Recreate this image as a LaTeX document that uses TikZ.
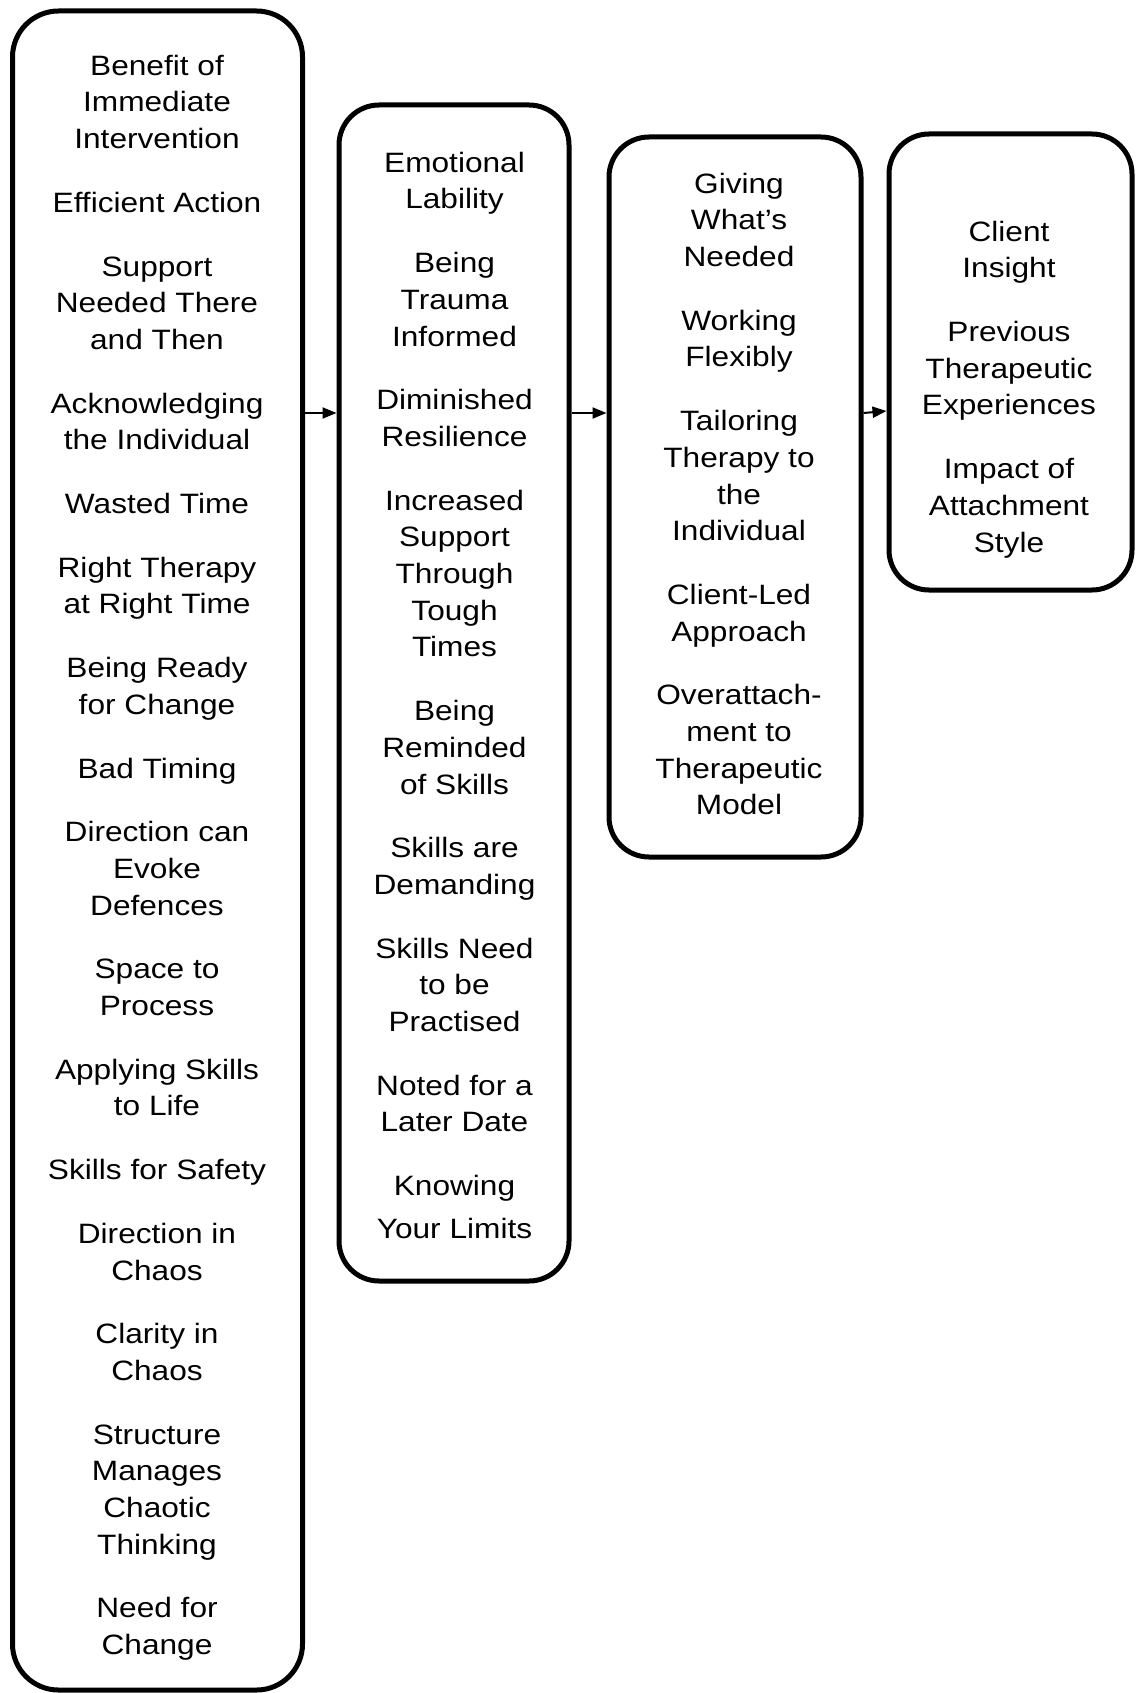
\documentclass[tikz,border=0pt]{standalone}
\usepackage{fontspec}
\setmainfont[FakeStretch=1.13]{Liberation Sans}
\usetikzlibrary{arrows.meta}

\tikzset{
  panel/.style={draw=black, line width=5pt, rounded corners=40pt, fill=white,
    inner sep=0pt},
  itemtext/.style={align=center, inner sep=0pt, anchor=north,
    font=\fontsize{28pt}{36.7pt}\selectfont},
  flow/.style={draw=black, line width=2pt, -{Triangle[length=14pt,width=11pt]}},
}
% space added between consecutive themes
\newcommand{\themegap}{\\[27pt]}

\begin{document}
\begin{tikzpicture}[x=1pt,y=-1pt]
  \useasboundingbox (0,0) rectangle (1138,1693);

  % rounded panels, one per column
  \node[panel, rounded corners=46pt, minimum width=290pt, minimum height=1679pt] (b1) at (157.5,850.5) {};
  \node[panel, minimum width=230pt, minimum height=1176pt] (b2) at (454,693) {};
  \node[panel, minimum width=252pt, minimum height=720pt]  (b3) at (735,497) {};
  \node[panel, minimum width=243pt, minimum height=456pt]  (b4) at (1010.5,362) {};

  % column contents
  \node[itemtext] (t1) at (157,49.3) {\strut Benefit of\\Immediate\\Intervention\themegap
    Efficient Action\themegap
    Support\\Needed There\\and Then\themegap
    Acknowledging\\the Individual\themegap
    Wasted Time\themegap
    Right Therapy\\at Right Time\themegap
    Being Ready\\for Change\themegap
    Bad Timing\themegap
    Direction can\\Evoke\\Defences\themegap
    Space to\\Process\themegap
    Applying Skills\\to Life\themegap
    Skills for Safety\themegap
    Direction in\\Chaos\themegap
    Clarity in\\Chaos\themegap
    Structure\\Manages\\Chaotic\\Thinking\themegap
    Need for\\Change};

  \node[itemtext] (t2) at (454.5,146.3) {\strut Emotional\\Lability\themegap
    Being\\Trauma\\Informed\themegap
    Diminished\\Resilience\themegap
    Increased\\Support\\Through\\Tough\\Times\themegap
    Being\\Reminded\\of Skills\themegap
    Skills are\\Demanding\themegap
    Skills Need\\to be\\Practised\themegap
    Noted for a\\Later Date\themegap
    Knowing\\[6.3pt]Your Limits};

  \node[itemtext] (t3) at (739,167.3) {\strut Giving\\What’s\\Needed\themegap
    Working\\Flexibly\themegap
    Tailoring\\Therapy to\\the\\Individual\themegap
    Client-Led\\Approach\themegap
    Overattach-\\ment to\\Therapeutic\\Model};

  \node[itemtext] (t4) at (1009,215.3) {\strut Client\\Insight\themegap
    Previous\\Therapeutic\\Experiences\themegap
    Impact of\\Attachment\\Style};

  % connectors between columns
  \coordinate (arrowrow) at (0,413);
  \coordinate (arrowrowb) at (0,411);
  \draw[flow] (b1.east |- arrowrow) -- (b2.west |- arrowrow);
  \draw[flow] (b2.east |- arrowrow) -- (b3.west |- arrowrow);
  \draw[flow] (b3.east |- arrowrow) -- (b4.west |- arrowrowb);
\end{tikzpicture}
\end{document}
